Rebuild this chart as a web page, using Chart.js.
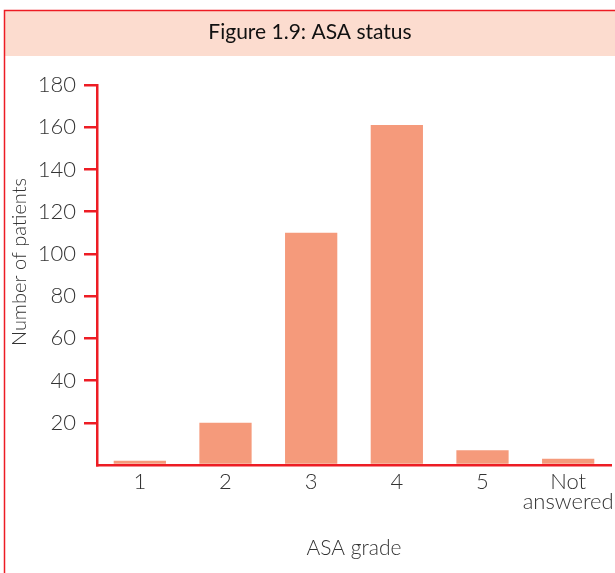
<!DOCTYPE html>
<html>
<head>
<meta charset="utf-8">
<script src="https://cdn.jsdelivr.net/npm/chart.js@4/dist/chart.umd.min.js"></script>
<style>
  html, body { margin: 0; padding: 0; background: #fff; }
  #wrap { width: 615px; height: 573px; position: relative; }
</style>
</head>
<body>
<div id="wrap"><canvas id="c" width="615" height="573"></canvas></div>
<script>
// ASA grade categories and patient counts
const categories = ['1', '2', '3', '4', '5', ['Not', 'answered']];
const patients = [2, 20, 110, 161, 7, 3];
const yTicks = [20, 40, 60, 80, 100, 120, 140, 160, 180];
const yTitle = 'Number of patients';

const RED = '#ED1C24';
const BAR = '#F59A7B';
const BAND = '#FCDCCF';
const TEXT = '#333';
const FONT = 'Lato, "Open Sans", sans-serif';

// Figure frame: pink title band with thin red rules on top and left
const framePlugin = {
  id: 'frame',
  beforeDraw(chart) {
    const ctx = chart.ctx;
    ctx.save();
    ctx.fillStyle = BAND;
    ctx.fillRect(5, 11, chart.width - 5, 45);
    ctx.strokeStyle = RED;
    ctx.lineWidth = 1.5;
    ctx.beginPath();
    ctx.moveTo(4.5, chart.height);
    ctx.lineTo(4.5, 10.5);
    ctx.lineTo(chart.width, 10.5);
    ctx.stroke();
    ctx.restore();
  }
};

// Vertical axis title, set a little above the middle of the value axis
const yTitlePlugin = {
  id: 'yTitle',
  afterDraw(chart) {
    const ctx = chart.ctx;
    const area = chart.chartArea;
    ctx.save();
    ctx.translate(20, (area.top + area.bottom) / 2 - 13);
    ctx.rotate(-Math.PI / 2);
    ctx.font = '300 20px ' + FONT;
    ctx.fillStyle = TEXT;
    ctx.textAlign = 'center';
    ctx.textBaseline = 'middle';
    ctx.fillText(yTitle, 0, 0);
    ctx.restore();
  }
};

new Chart(document.getElementById('c'), {
  type: 'bar',
  data: {
    labels: categories,
    datasets: [{
      data: patients,
      backgroundColor: BAR,
      borderWidth: 0,
      barPercentage: 0.61,
      categoryPercentage: 1.0
    }]
  },
  plugins: [framePlugin, yTitlePlugin],
  options: {
    responsive: false,
    animation: false,
    devicePixelRatio: 1,
    layout: { padding: { left: 9, right: 4, top: 0, bottom: 0 } },
    plugins: {
      legend: { display: false },
      tooltip: { enabled: false },
      title: {
        display: true,
        text: 'Figure 1.9: ASA status',
        color: '#111',
        font: { family: FONT, size: 21, weight: 'normal', lineHeight: 1.2 },
        padding: { top: 19.4, bottom: 40.4 }
      }
    },
    scales: {
      x: {
        offset: true,
        grid: { display: false, drawTicks: false },
        border: { display: true, color: RED, width: 2.5 },
        ticks: {
          color: TEXT,
          padding: 7,
          font: { family: FONT, size: 22, weight: 300, lineHeight: 0.92 },
          maxRotation: 0,
          autoSkip: false
        },
        title: {
          display: true,
          text: 'ASA grade',
          color: TEXT,
          font: { family: FONT, size: 21, weight: 300, lineHeight: 1.2 },
          padding: { top: 0, bottom: 12 }
        },
        afterFit(scale) {
          scale.height = 108;
          scale.paddingLeft = 0;
          scale.paddingRight = 0;
        }
      },
      y: {
        min: 0,
        max: 180,
        afterBuildTicks(scale) {
          scale.ticks = [0].concat(yTicks).map(v => ({ value: v }));
        },
        grid: {
          drawOnChartArea: false,
          drawTicks: true,
          tickLength: 13,
          lineWidth: 2.5,
          color: ctx => (ctx.tick && ctx.tick.value === 0) ? 'rgba(0,0,0,0)' : RED
        },
        border: { display: true, color: RED, width: 2.5 },
        ticks: {
          color: TEXT,
          padding: 8,
          font: { family: FONT, size: 22, weight: 300 },
          callback: v => (v === 0 ? '' : v)
        },
        title: { display: false },
        afterFit(scale) { scale.width = 88; }
      }
    }
  }
});
</script>
</body>
</html>
